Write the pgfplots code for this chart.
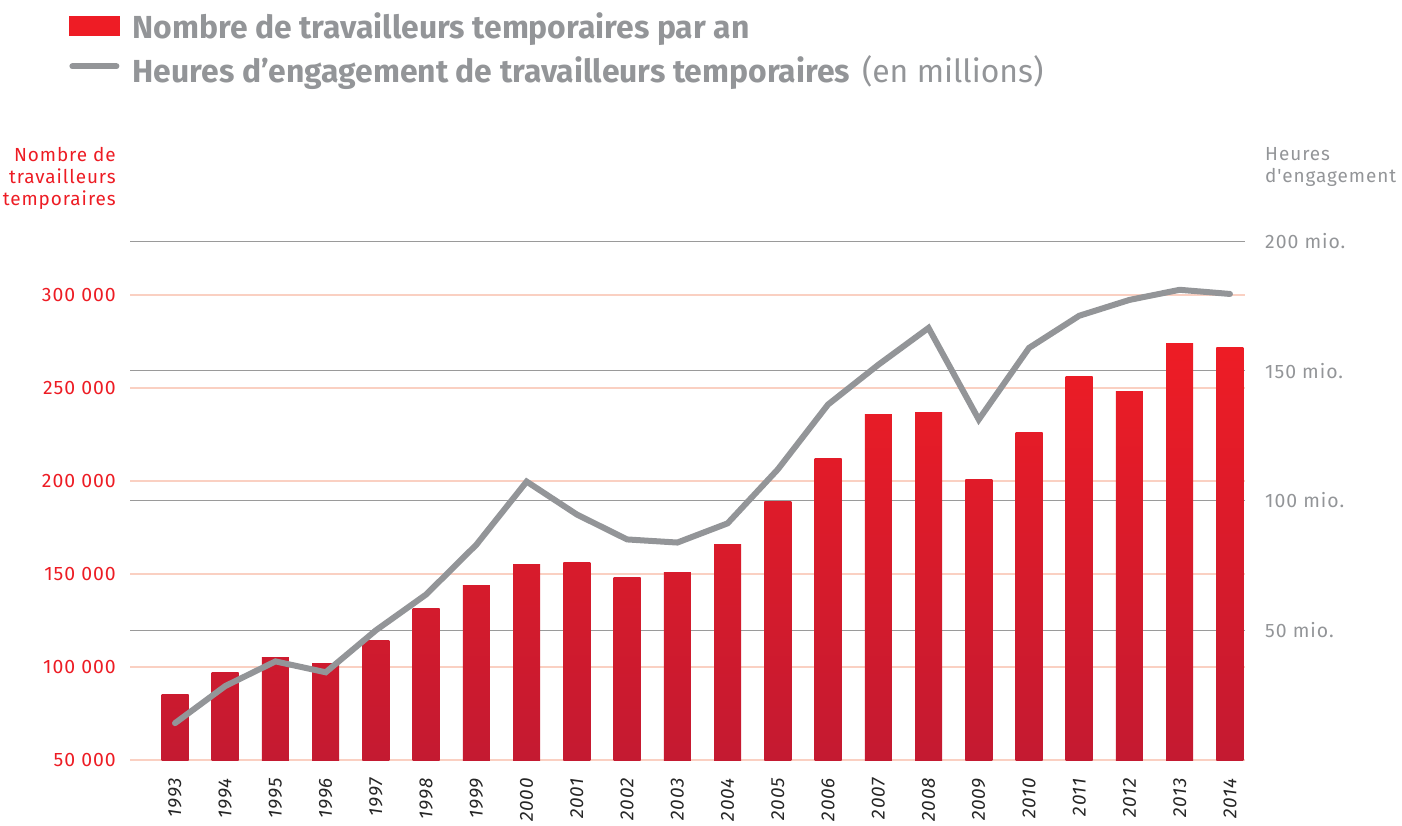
\documentclass[border=0pt]{standalone}
\usepackage{pgfplots}
\pgfplotsset{compat=1.18}
\usepackage{fontspec}
\setmainfont{Fira Sans}[LetterSpace=5]
\newfontfamily\legfont{Fira Sans}
\newfontfamily\rawfont{Fira Sans}[LetterSpace=5, Ligatures=ResetAll]
\definecolor{barTop}{HTML}{EE1C25}
\definecolor{barBot}{HTML}{C41A31}
\definecolor{lineGray}{HTML}{939598}
\definecolor{textGray}{HTML}{939598}
\definecolor{redText}{HTML}{ED1C24}
\definecolor{salmon}{HTML}{FAD0C2}
\definecolor{gridGray}{HTML}{9A9A9A}
\newcommand{\mybar}[3]{\addplot[ybar, forget plot, bar width=27bp, bar shift=0pt, draw=none, top color=barTop!#3!barBot, bottom color=barBot] coordinates {(#1,#2)};}
\begin{document}
\begin{tikzpicture}
\useasboundingbox (0,0) rectangle (1402bp,-826bp);
\begin{axis}[
  at={(130bp,-760bp)}, anchor=south west,
  scale only axis, width=1115bp, height=519bp,
  xmin=-0.896, xmax=21.30, ymin=0, ymax=279032,
  y filter/.expression={y-50000},
  axis line style={draw=none}, major tick length=0pt,
  scaled y ticks=false,
  xtick={0,...,21},
  xticklabels={1993,1994,1995,1996,1997,1998,1999,2000,2001,2002,2003,2004,2005,2006,2007,2008,2009,2010,2011,2012,2013,2014},
  xticklabel style={rotate=90, anchor=east, inner sep=0pt, font=\itshape\fontsize{19}{22}\selectfont, text=black!85},
  xticklabel shift=18bp,
  ytick={0,50000,100000,150000,200000,250000},
  yticklabels={50 000,100 000,150 000,200 000,250 000,300 000},
  yticklabel style={anchor=east, inner sep=0pt, font=\fontsize{19.5}{22}\selectfont, text=redText},
  yticklabel shift=14bp,
  ymajorgrids, grid style={salmon, line width=1.3bp},
  extra y ticks={69758,139516,209274,279032},
  extra y tick labels={},
  extra y tick style={grid style={gridGray, line width=1bp}},
  legend style={at={(-0.0547,1.4412)}, anchor=north west, draw=none, fill=none,
    inner sep=0pt, font=\legfont\bfseries\fontsize{32}{36}\selectfont, text=textGray,
    row sep=15.5bp, nodes={inner sep=0pt},
    /tikz/every odd column/.append style={column sep=13bp}},
  legend cell align=left,
]
\mybar{0}{85000}{16}
\mybar{1}{97000}{21}
\mybar{2}{105000}{24}
\mybar{3}{102000}{23}
\mybar{4}{114000}{28}
\mybar{5}{131500}{36}
\mybar{6}{144000}{42}
\mybar{7}{155000}{47}
\mybar{8}{156000}{47}
\mybar{9}{148000}{44}
\mybar{10}{151000}{45}
\mybar{11}{166000}{52}
\mybar{12}{189000}{62}
\mybar{13}{212000}{72}
\mybar{14}{236000}{83}
\mybar{15}{237000}{83}
\mybar{16}{201000}{67}
\mybar{17}{226000}{78}
\mybar{18}{256000}{92}
\mybar{19}{248000}{88}
\mybar{20}{274000}{100}
\mybar{21}{272000}{99}
\addlegendimage{legend image code/.code={\fill[barTop] (0bp,-9.5bp) rectangle (50bp,9.5bp);}}
\addlegendentry{Nombre de travailleurs temporaires par an}
\addlegendimage{legend image code/.code={\draw[lineGray, line width=6bp, line cap=round] (3bp,3bp) -- (47bp,3bp);}}
\addlegendentry{Heures d’engagement de travailleurs temporaires\hspace{12bp}\mdseries(en millions)}
\end{axis}
\begin{axis}[
  at={(130bp,-760bp)}, anchor=south west,
  scale only axis, width=1115bp, height=519bp,
  xmin=-0.896, xmax=21.30, ymin=0, ymax=200,
  axis line style={draw=none}, major tick length=0pt,
  xtick=\empty,
  yticklabel pos=right,
  ytick={50,100,150,200},
  yticklabels={50 mio.,100 mio.,150 mio.,200 mio.},
  yticklabel style={anchor=west, inner sep=0pt, font=\fontsize{19.5}{22}\selectfont, text=textGray},
  yticklabel shift=20bp,
]
\addplot[lineGray, line width=6bp, line cap=round] coordinates {
(0,14.2) (1,28.5) (2,38) (3,33.8) (4,50) (5,63.8) (6,83) (7,107.3) (8,94.6) (9,85) (10,83.8)
(11,91.2) (12,112) (13,137) (14,152.3) (15,166.5) (16,131.2) (17,158.8) (18,171.2) (19,177.3) (20,181.2) (21,179.6)};
\end{axis}
\node[anchor=east, align=right, text=redText, font=\fontsize{19}{22}\selectfont, inner sep=0pt] at (116bp,-178bp) {Nombre de\\travailleurs\\temporaires};
\node[anchor=west, align=left, text=textGray, font=\rawfont\fontsize{19}{22}\selectfont, inner sep=0pt] at (1265bp,-167bp) {Heures\\d'engagement};
\end{tikzpicture}
\end{document}
